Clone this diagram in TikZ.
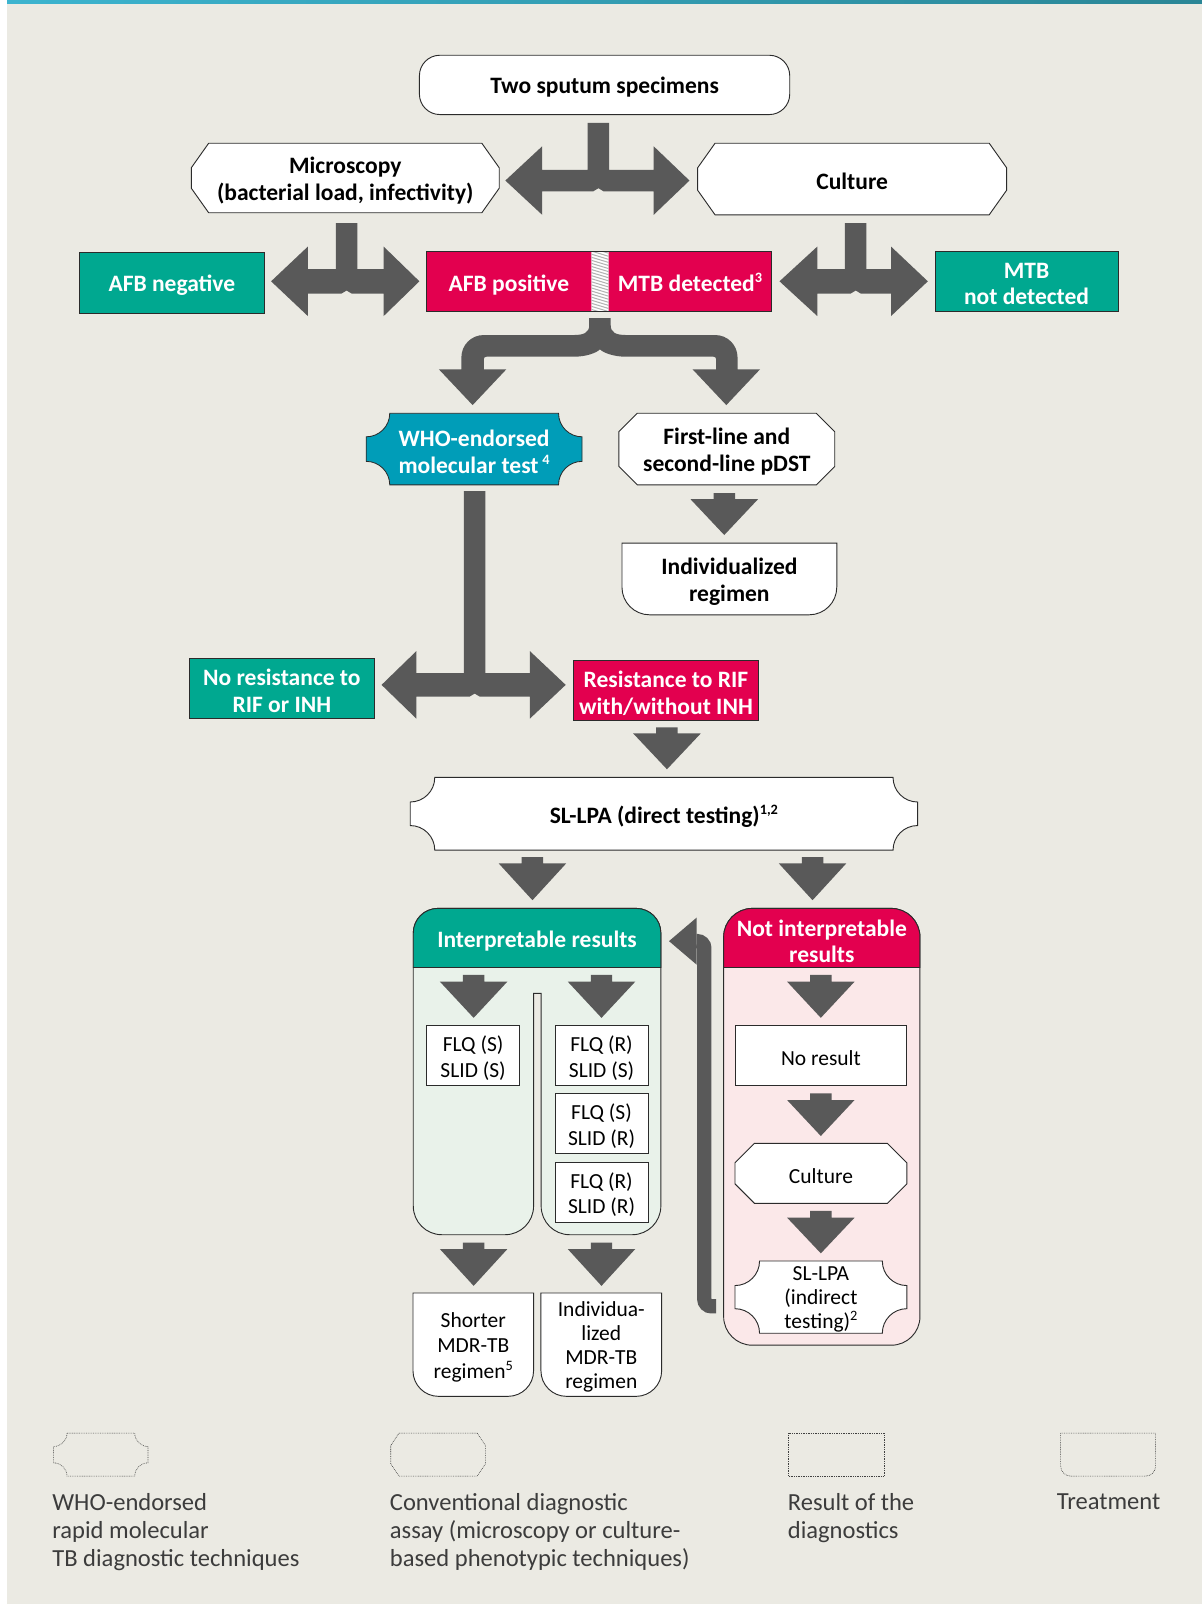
\documentclass[tikz,border=0pt]{standalone}
\usepackage{fontspec}
\setmainfont{Carlito}
\usetikzlibrary{calc}
\definecolor{bgc}{HTML}{EBEAE3}
\definecolor{topl}{HTML}{3CB4CF}
\definecolor{topr}{HTML}{2A8696}
\definecolor{arrc}{HTML}{595959}
\definecolor{tealc}{HTML}{00A890}
\definecolor{redc}{HTML}{E3004F}
\definecolor{whoc}{HTML}{009DB8}
\definecolor{greenb}{HTML}{E9F2EA}
\definecolor{pinkb}{HTML}{FBE8E9}
\definecolor{linec}{HTML}{2B2B2B}
\definecolor{legc}{HTML}{3C3C3C}
\newcommand{\fntb}{\fontsize{23}{26}\selectfont\bfseries}
\newcommand{\fntr}{\fontsize{21}{25}\selectfont}
\newcommand{\fntrc}{\fontsize{21}{23.5}\selectfont}
\newcommand{\fntl}{\fontsize{24}{27.3}\selectfont}
\newcommand{\mysup}[1]{\raisebox{0.38em}[0pt][0pt]{\fontsize{14}{14}\selectfont #1}}
\tikzset{
 wsh/.style={fill=white, draw=linec, line width=0.9pt},
 tsh/.style={fill=tealc, draw=linec, line width=0.8pt, text=white},
 rsh/.style={fill=redc, draw=linec, line width=0.8pt, text=white},
 bsh/.style={fill=whoc, draw=linec, line width=0.8pt, text=white},
 legsh/.style={draw=black!75, line width=0.55pt, dash pattern=on 0.8pt off 0.9pt},
 bt/.style={font=\fntb, align=center},
 rt/.style={font=\fntr, align=center},
 arr/.style={fill=arrc},
 legtext/.style={anchor=north west, align=left, font=\fntl, text=legc, inner sep=0pt}
}
% rectangle box: style, name, x1, y1, x2, y2, text
\newcommand{\mkrect}[7]{%
 \draw[#1] (#3,#4) rectangle (#5,#6);
 \node[#1,draw=none,fill=none,inner sep=0pt,minimum width={(#5-#3)*1pt},minimum height={(#6-#4)*1pt}] (#2) at ({(#3+#5)/2},{(#4+#6)/2+2.5}) {#7};}
% chamfered box: style, name, x1, y1, x2, y2, hx, vy, text
\newcommand{\mkoct}[9]{%
 \draw[#1] ({#3+#7},#4) -- ({#5-#7},#4) -- (#5,{#4+#8}) -- (#5,{#6-#8}) -- ({#5-#7},#6) -- ({#3+#7},#6) -- (#3,{#6-#8}) -- (#3,{#4+#8}) -- cycle;
 \node[#1,draw=none,fill=none,inner sep=0pt,minimum width={(#5-#3)*1pt},minimum height={(#6-#4)*1pt}] (#2) at ({(#3+#5)/2},{(#4+#6)/2+2.5}) {#9};}
% concave-corner box: style, name, x1, y1, x2, y2, r, text
\newcommand{\mkwho}[8]{%
 \draw[#1] ({#3+#7},#4) -- ({#5-#7},#4) .. controls ({#5-#7},{#4+0.552*#7}) and ({#5-0.552*#7},{#4+#7}) .. (#5,{#4+#7}) -- (#5,{#6-#7}) .. controls ({#5-0.552*#7},{#6-#7}) and ({#5-#7},{#6-0.552*#7}) .. ({#5-#7},#6) -- ({#3+#7},#6) .. controls ({#3+#7},{#6-0.552*#7}) and ({#3+0.552*#7},{#6-#7}) .. (#3,{#6-#7}) -- (#3,{#4+#7}) .. controls ({#3+0.552*#7},{#4+#7}) and ({#3+#7},{#4+0.552*#7}) .. ({#3+#7},#4) -- cycle;
 \node[#1,draw=none,fill=none,inner sep=0pt,minimum width={(#5-#3)*1pt},minimum height={(#6-#4)*1pt}] (#2) at ({(#3+#5)/2},{(#4+#6)/2+2.5}) {#8};}
% treatment box (rounded bottom): style, name, x1, y1, x2, y2, r, text
\newcommand{\mktreat}[8]{%
 \draw[#1] (#3,#4) -- (#5,#4) -- (#5,{#6-#7}) .. controls (#5,{#6-0.448*#7}) and ({#5-0.448*#7},#6) .. ({#5-#7},#6) -- ({#3+#7},#6) .. controls ({#3+0.448*#7},#6) and (#3,{#6-0.448*#7}) .. (#3,{#6-#7}) -- cycle;
 \node[#1,draw=none,fill=none,inner sep=0pt,minimum width={(#5-#3)*1pt},minimum height={(#6-#4)*1pt}] (#2) at ({(#3+#5)/2},{(#4+#6)/2+2.5}) {#8};}
% down block arrow: cx, ytop, ybase, ytip
\newcommand{\downarr}[4]{\fill[arr] ({#1-10.5},#2) -- ({#1+10.5},#2) -- ({#1+10.5},#3) -- ({#1+33},#3) -- (#1,#4) -- ({#1-33},#3) -- ({#1-10.5},#3) -- cycle;}
% T block arrow: cx, ytop, bartop, barbot, ltip, lbase, rbase, rtip, half head
\newcommand{\tarr}[9]{\fill[arr] ({#1-10.5},#2) -- ({#1+10.5},#2) -- ({#1+10.5},#3) -- (#7,#3) -- (#7,{(#3+#4)/2-#9}) -- (#8,{(#3+#4)/2}) -- (#7,{(#3+#4)/2+#9}) -- (#7,#4) -- ({#1+5},#4) -- (#1,{#4-3}) -- ({#1-5},#4) -- (#6,#4) -- (#6,{(#3+#4)/2+#9}) -- (#5,{(#3+#4)/2}) -- (#6,{(#3+#4)/2-#9}) -- (#6,#3) -- ({#1-10.5},#3) -- cycle;}

\begin{document}
\begin{tikzpicture}[x=1pt,y=-1pt]
\useasboundingbox (0,0) rectangle (1175,1568);
\fill[white] (0,0) rectangle (1175,1568);
\fill[bgc] (7,0) rectangle (1175,1568);
\shade[left color=topl,right color=topr] (7,0) rectangle (1175,3.6);

% row 1
\mkrect{wsh,bt,rounded corners=20pt}{sput}{410}{54}{772}{112}{Two sputum specimens}
\mkoct{wsh,bt}{micro}{187}{140}{488}{208}{17}{24}{Microscopy\\(bacterial load, infectivity)}
\mkoct{wsh,bt}{cult}{682}{140}{984}{210}{17}{24}{Culture}
\tarr{585}{120}{166}{187}{494}{530}{639}{674}{33.5}

% row 2
\mkrect{tsh,bt}{afbneg}{78}{247}{258}{306}{AFB negative}
\tarr{338.8}{218}{263}{287}{265}{301}{375}{410}{34}
\fill[redc] (417,246) rectangle (754,304);
\begin{scope}
\clip (578,246) rectangle (595,304);
\fill[white] (578,246) rectangle (595,304);
\foreach \k in {0,...,30} \draw[black!30, line width=1pt] (570,{234+\k*3}) -- (603,{244+\k*3});
\end{scope}
\draw[linec, line width=0.8pt] (417,246) rectangle (754,304);
\node[bt,text=white,inner sep=0pt,text height=16pt,text depth=5pt,minimum width=161pt,minimum height=58pt] (afbpos) at (497.5,279.5) {AFB positive};
\node[bt,text=white,inner sep=0pt,text height=16pt,text depth=5pt,minimum width=159pt,minimum height=58pt] (mtbdet) at (674.5,279.5) {MTB detected\mysup{3}};
\mkrect{tsh,bt}{mtbnot}{914}{246}{1093}{304}{MTB\\not detected}
\tarr{836.5}{218}{263}{287}{762}{799}{871}{907}{34}

% brace arrow
\fill[arr] (576,311) -- (597,311) -- (597,318) .. controls (597,325) and (602,327.5) .. (612,327.5) -- (699,327.5) .. controls (711.3,327.5) and (721,337.2) .. (721,349.5) -- (721,361) -- (743,361) -- (710,396) -- (677,361) -- (700,361) -- (700,351) .. controls (700,349.5) and (699,348.7) .. (697.5,348.7) -- (612,348.7) .. controls (600,348.7) and (590,345) .. (586.5,341.5) .. controls (583,345) and (573,348.7) .. (561,348.7) -- (475.5,348.7) .. controls (474,348.7) and (473,349.5) .. (473,351) -- (473,361) -- (495,361) -- (462,396) -- (429,361) -- (451,361) -- (451,349.5) .. controls (451,337.2) and (460.7,327.5) .. (473,327.5) -- (561,327.5) .. controls (571,327.5) and (576,325) .. (576,318) -- cycle;

% row 3
\mkwho{bsh,bt}{who}{358}{404}{569}{474}{23}{WHO-endorsed\\molecular test\,\mysup{4}}
\mkoct{wsh,bt}{pdst}{605}{404}{816}{474}{18}{18}{First-line and\\second-line pDST}
\downarr{708}{482}{488}{523}
\mktreat{wsh,bt}{indiv}{608}{531}{818}{601}{27}{Individualized\\regimen}

% row 4
\tarr{464}{480}{658}{681}{373}{407}{518}{553}{33}
\mkrect{tsh,bt}{nores}{185}{644}{366}{702}{No resistance to\\RIF or INH}
\mkrect{rsh,bt}{resist}{561}{646}{741}{704}{Resistance to RIF\\with/without INH}
\downarr{652}{711}{717}{752}
\mkwho{wsh,bt}{sllpa}{401}{760}{897}{831}{24}{SL-LPA (direct testing)\mysup{1,2}}
\downarr{520.5}{838}{844}{880}
\downarr{794.3}{838}{844}{880}

% interpretable panel
\draw[fill=greenb, draw=linec, line width=0.9pt] (404,912) .. controls (404,898.75) and (414.75,888) .. (428,888) -- (622,888) .. controls (635.25,888) and (646,898.75) .. (646,912) -- (646,1179) .. controls (646,1194.5) and (633.5,1207) .. (618,1207) -- (557,1207) .. controls (541.5,1207) and (529,1194.5) .. (529,1179) -- (529,971) -- (521.6,971) -- (521.6,1179) .. controls (521.6,1194.5) and (509.1,1207) .. (493.6,1207) -- (432,1207) .. controls (416.5,1207) and (404,1194.5) .. (404,1179) -- cycle;
\begin{scope}
\clip (398,880) rectangle (652,946);
\draw[fill=tealc, draw=linec, line width=0.9pt, rounded corners=24pt] (404,888) rectangle (646,1000);
\end{scope}
\draw[linec, line width=0.6pt] (404,946) -- (646,946);
\node[bt,text=white] (interp) at (525,919.5) {Interpretable results};

% not interpretable panel
\draw[fill=pinkb, draw=linec, line width=0.9pt, rounded corners=28pt] (707.4,888) rectangle (899.3,1315);
\begin{scope}
\clip (700,880) rectangle (906,946);
\draw[fill=redc, draw=linec, line width=0.9pt, rounded corners=28pt] (707.4,888) rectangle (899.3,1100);
\end{scope}
\draw[linec, line width=0.6pt] (707.4,946) -- (899.3,946);
\node[bt,text=white] (notinterp) at (803.4,920) {Not interpretable\\results};

% inside interpretable
\downarr{463}{953}{959.6}{995}
\downarr{588}{953}{959.6}{995}
\mkrect{wsh,rt}{flqa}{417}{1002.6}{508}{1061.3}{FLQ (S)\\SLID (S)}
\mkrect{wsh,rt}{flqb}{542.6}{1002.6}{633.5}{1061.3}{FLQ (R)\\SLID (S)}
\mkrect{wsh,rt}{flqc}{542.6}{1069}{633.5}{1128}{FLQ (S)\\SLID (R)}
\mkrect{wsh,rt}{flqd}{542.6}{1136}{633.5}{1195}{FLQ (R)\\SLID (R)}
\downarr{463}{1214.7}{1221}{1257}
\downarr{588}{1214.7}{1221}{1257}
\mktreat{wsh,rt}{shorter}{403.7}{1264}{521.6}{1365}{25}{Shorter\\MDR-TB\\regimen\mysup{5}}
\mktreat{wsh,rt,font=\fntrc}{indmdr}{528.8}{1264}{646.8}{1365}{25}{Individua-\\lized\\MDR-TB\\regimen}

% inside not interpretable
\downarr{802.4}{953}{959.6}{995}
\mkrect{wsh,rt}{noresult}{718.5}{1002.6}{886.5}{1061.3}{No result}
\downarr{802.4}{1068.8}{1075.3}{1110.5}
\mkoct{wsh,rt}{cult2}{718.5}{1117.7}{886.5}{1176.3}{19}{19}{Culture}
\downarr{802.4}{1183.8}{1190.3}{1225.2}
\mkwho{wsh,rt,font=\fntrc}{sllpa2}{718.5}{1232.7}{886.5}{1303.3}{24}{SL-LPA\\(indirect\\testing)\mysup{2}}

% return arrow
\draw[arrc, line width=14pt, rounded corners=7pt] (700,1277) -- (688.5,1277) -- (688.5,920) -- (681,920);
\fill[arr] (681,897) -- (654,920) -- (681,943) -- cycle;

% legend
\mkwho{legsh}{leg1}{52.5}{1401}{144.7}{1443}{13}{}
\mkoct{legsh}{leg2}{382}{1401}{474.5}{1443}{8}{12}{}
\mkrect{legsh}{leg3}{770.6}{1401}{864.3}{1443}{}
\mktreat{legsh}{leg4}{1036.8}{1401}{1129.7}{1443}{10}{}
\node[legtext] (legt1) at (51,1460) {WHO-endorsed\\rapid molecular\\TB diagnostic techniques};
\node[legtext] (legt2) at (381,1460) {Conventional diagnostic\\assay (microscopy or culture-\\based phenotypic techniques)};
\node[legtext] (legt3) at (770,1460) {Result of the\\diagnostics};
\node[legtext] (legt4) at (1033,1460) {Treatment};
\end{tikzpicture}
\end{document}
